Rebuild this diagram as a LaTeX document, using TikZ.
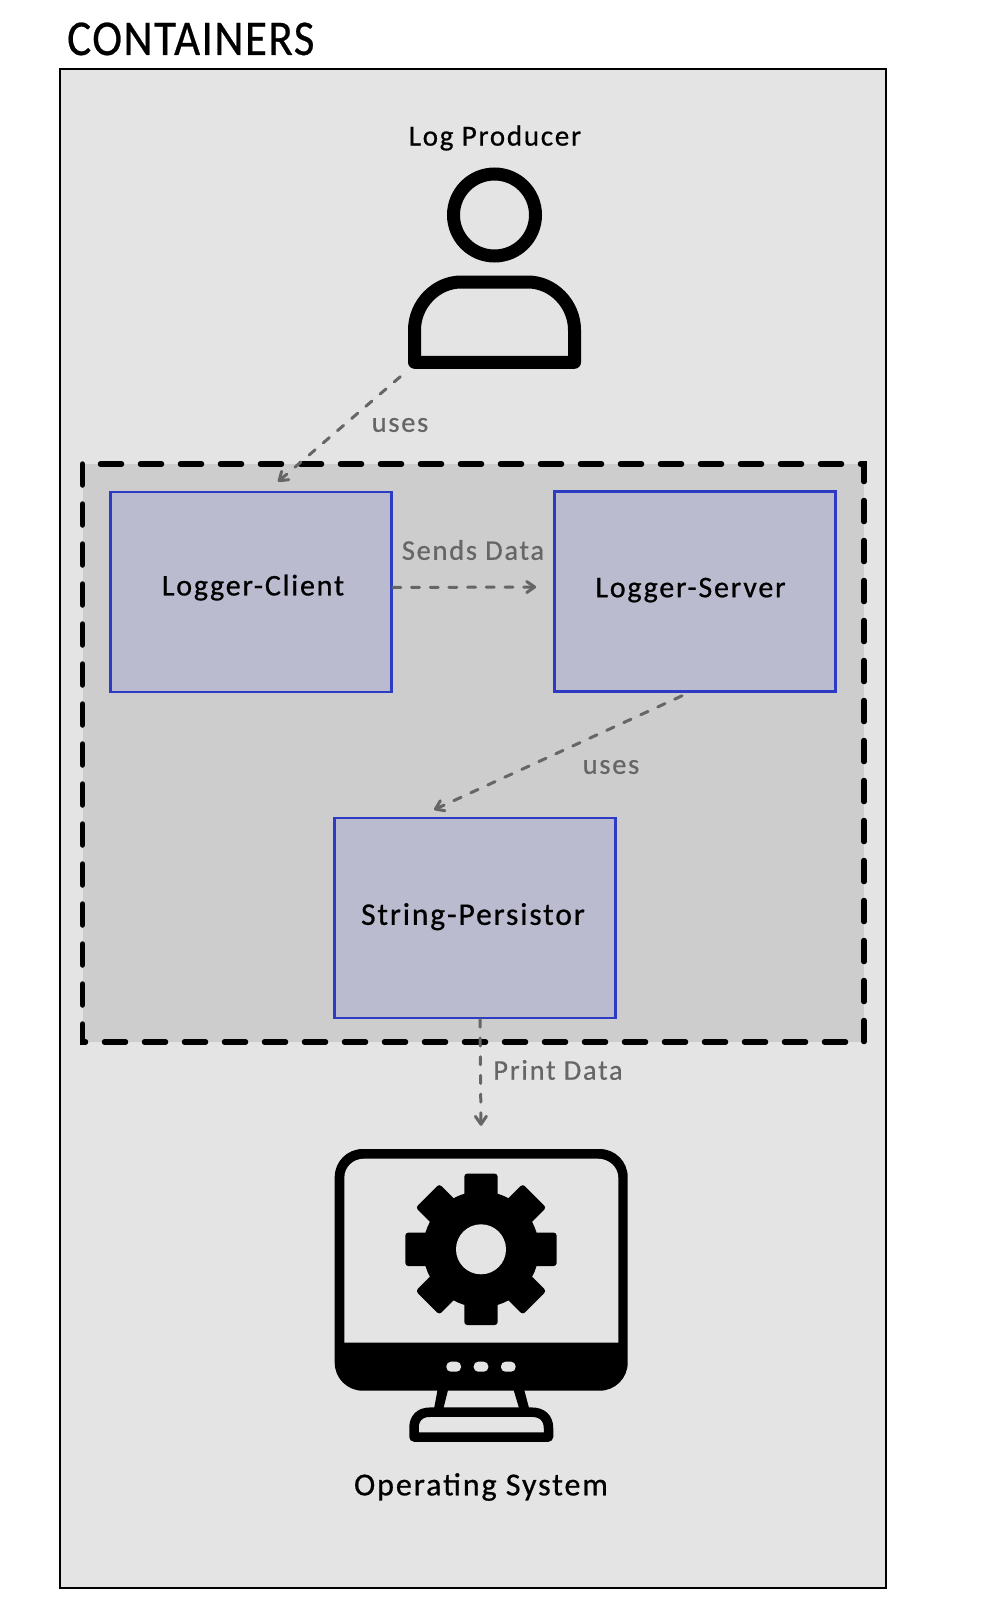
\documentclass[tikz,border=0pt]{standalone}
\usetikzlibrary{arrows.meta}
\usepackage{fontspec}
\setmainfont{Carlito}
\newfontfamily\handfont[LetterSpace=6,FakeBold=0.7]{Carlito}
\newfontfamily\flowfont[LetterSpace=6,FakeBold=0.5]{Carlito}
\newfontfamily\titlefont[LetterSpace=3,FakeStretch=0.9,FakeBold=0.5]{Carlito}
\definecolor{outerbg}{HTML}{E4E4E4}
\definecolor{innerbg}{HTML}{CDCDCD}
\definecolor{boxbg}{HTML}{BBBBD0}
\definecolor{boxline}{HTML}{2D3BC4}
\definecolor{flowgray}{HTML}{666666}
\tikzset{
    container/.style={draw=boxline,line width=2.6pt,fill=boxbg,minimum width=281pt,minimum height=200pt,inner sep=0pt,font=\handfont\fontsize{30}{32}\selectfont},
    flow/.style={-{Straight Barb[length=8pt,width=11pt,line cap=round,line join=round]},flowgray,line width=3pt,line cap=round,dash pattern=on 8pt off 10.7pt},
    flowlabel/.style={flowgray,font=\flowfont\fontsize{28.5}{32}\selectfont},
    iconlabel/.style={black,font=\handfont\fontsize{29}{32}\selectfont},
    icon/.style={minimum width=174pt,inner sep=0pt}
}
\begin{document}
\begin{tikzpicture}[x=1pt,y=-1pt]
    \useasboundingbox (0,0) rectangle (1000,1616);
    \node[font=\titlefont\fontsize{50}{54}\selectfont,anchor=base west,inner sep=0pt] (title) at (67,55) {CONTAINERS};
    \draw[line width=2.2pt,fill=outerbg] (60,69) rectangle (886,1588);
    \draw[line width=5.5pt,fill=innerbg,dash pattern=on 21pt off 19pt,line cap=round] (82.5,464) rectangle (864,1042);
    % the three boxes
    \node[container] (client) at (251,592) {\hspace*{4pt}\raisebox{14pt}{Logger-Client}};
    \node[container] (server) at (695,591.5) {\hspace*{-9pt}\raisebox{8pt}{Logger-Server}};
    \node[container,font=\handfont\fontsize{31.5}{34}\selectfont] (persistor) at (475,918) {\hspace*{-4pt}\raisebox{8pt}{String-Persistor}};
    % log producer
    \node[iconlabel] (producerlabel) at (495,138) {Log Producer};
    \node[icon,minimum height=153pt] (producer) at (494.5,292) {};
    \draw[line width=13pt] (494.5,215) circle [radius=41];
    \draw[line width=13pt,line join=round] (414.5,362.3) -- (414.5,330) .. controls (414.5,304) and (436,282) .. (461,282) -- (528,282) .. controls (553,282) and (574.5,304) .. (574.5,330) -- (574.5,362.3) -- cycle;
    % operating system
    \node[icon,minimum height=292pt] (os) at (481,1295) {};
    \fill[rounded corners=28pt] (334.7,1149) rectangle (627.7,1390.7);
    \fill[outerbg] (344.3,1342.7) -- (344.3,1178) .. controls (344.3,1167) and (353,1158.7) .. (364,1158.7) -- (598,1158.7) .. controls (609,1158.7) and (618.3,1167) .. (618.3,1178) -- (618.3,1342.7) -- cycle;
    \fill (481,1249.3) circle [radius=58];
    \foreach \a in {0,45,...,315}
        \fill[rotate around={\a:(481,1249.3)},rounded corners=3pt] (464.3,1240) rectangle (497.7,1173.6);
    \fill[outerbg] (481,1249.3) circle [radius=25];
    \foreach \x in {453.7,481,508.3}
        \fill[outerbg,rounded corners=4.5pt] (\x-7.3,1361.7) rectangle (\x+7.3,1371.7);
    \fill (437.7,1389) -- (448.3,1389) -- (443.3,1409) -- (434,1409) -- cycle;
    \fill (513.3,1389) -- (524,1389) -- (529.3,1409) -- (519.3,1409) -- cycle;
    \draw[line width=9.5pt,line join=round] (414,1437) -- (414,1428) .. controls (414,1418) and (420,1412.2) .. (430,1412.2) -- (532,1412.2) .. controls (542,1412.2) and (548.5,1418) .. (548.5,1428) -- (548.5,1437) -- cycle;
    \node[iconlabel,font=\handfont\fontsize{32}{34}\selectfont] (oslabel) at (481,1487) {Operating System};
    % connectors
    \draw[flow] ([shift={(-7,8)}]producer.south west) -- ([shift={(27,-9)}]client.north);
    \draw[flow] ([shift={(0,-4.5)}]client.east) -- ([shift={(-17,-4.5)}]server.west);
    \draw[flow] ([shift={(-13,3)}]server.south) -- ([shift={(-41,-7)}]persistor.north);
    \draw[flow] ([shift={(5,0)}]persistor.south) -- ([shift={(0,-23)}]os.north);
    \node[flowlabel] (useslabel) at (400,425) {uses};
    \node[flowlabel] (sendslabel) at (473,550) {Sends Data};
    \node[flowlabel] (usestwolabel) at (611,767) {uses};
    \node[flowlabel] (printlabel) at (558,1070) {Print Data};
\end{tikzpicture}
\end{document}
